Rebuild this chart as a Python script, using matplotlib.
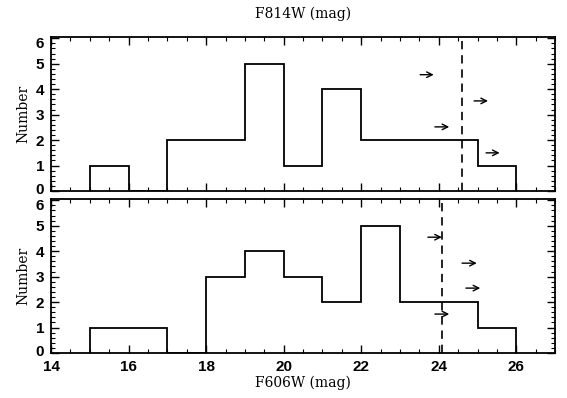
import matplotlib
matplotlib.use("Agg")
import matplotlib.pyplot as plt
import matplotlib.transforms as mtransforms
from matplotlib.ticker import MultipleLocator

# histogram bin edges (mag) and counts per panel
edges = [15, 16, 17, 18, 19, 20, 21, 22, 23, 24, 25, 26]
top_counts = [1, 0, 2, 2, 5, 1, 4, 2, 2, 2, 1]
bottom_counts = [1, 1, 0, 3, 4, 3, 2, 5, 2, 2, 1]

# limit lines
top_limit = 24.6
bottom_limit = 24.08

# arrows: start x, end x, y
top_arrow_x0 = [23.52, 24.91, 23.90, 25.22]
top_arrow_x1 = [23.87, 25.27, 24.27, 25.57]
top_arrow_y = [4.57, 3.54, 2.52, 1.50]
bottom_arrow_x0 = [23.72, 24.60, 24.70, 23.90]
bottom_arrow_x1 = [24.08, 24.98, 25.07, 24.27]
bottom_arrow_y = [4.55, 3.53, 2.55, 1.53]

plt.rcParams["font.family"] = "DejaVu Serif"
plt.rcParams["font.size"] = 10


def draw(ax, counts, limit, ax0, ax1, ay):
	ax.stairs(counts, edges, color="k", lw=1.3)
	ax.axvline(limit, color="k", lw=1.2, dashes=(5, 3.5))
	for x0, x1, y in zip(ax0, ax1, ay):
		ax.annotate("", xy=(x1, y), xytext=(x0, y),
			arrowprops=dict(arrowstyle="->", color="k", lw=1.0,
				shrinkA=0, shrinkB=0))
	ax.set_xlim(14, 27)
	ax.set_ylim(0, 6.05)
	ax.set_ylabel("Number", labelpad=4)
	ax.xaxis.set_major_locator(MultipleLocator(2))
	ax.xaxis.set_minor_locator(MultipleLocator(0.5))
	ax.yaxis.set_major_locator(MultipleLocator(1))
	ax.yaxis.set_minor_locator(MultipleLocator(0.2))
	ax.tick_params(which="both", direction="in", top=True, right=True)
	ax.tick_params(which="major", length=6, width=1, pad=5)
	ax.tick_params(which="minor", length=3, width=0.8)
	for lab in ax.get_xticklabels() + ax.get_yticklabels():
		lab.set_fontfamily("Liberation Sans")
		lab.set_fontweight("bold")
		lab.set_fontsize(11)
	for s in ax.spines.values():
		s.set_linewidth(1.3)
	# nudge the end labels inward like the original
	ticks = ax.yaxis.get_major_ticks()
	for t in ticks:
		y = t.get_loc()
		if abs(y) < 1e-6:
			off = mtransforms.ScaledTranslation(0, 3 / 100, ax.figure.dpi_scale_trans)
			t.label1.set_transform(t.label1.get_transform() + off)
		elif abs(y - 6) < 1e-6:
			off = mtransforms.ScaledTranslation(0, -4 / 100, ax.figure.dpi_scale_trans)
			t.label1.set_transform(t.label1.get_transform() + off)


fig = plt.figure(figsize=(5.67, 3.98), dpi=100)
ax1 = fig.add_axes([0.090, 0.520, 0.889, 0.387])
ax2 = fig.add_axes([0.090, 0.113, 0.889, 0.387])

draw(ax1, top_counts, top_limit, top_arrow_x0, top_arrow_x1, top_arrow_y)
draw(ax2, bottom_counts, bottom_limit, bottom_arrow_x0, bottom_arrow_x1, bottom_arrow_y)

ax1.tick_params(axis="x", labelbottom=False)
ax1.set_title("F814W (mag)", fontsize=10, pad=14)
ax2.set_xlabel("F606W (mag)", labelpad=1)

fig.savefig("out.png", dpi=100)
